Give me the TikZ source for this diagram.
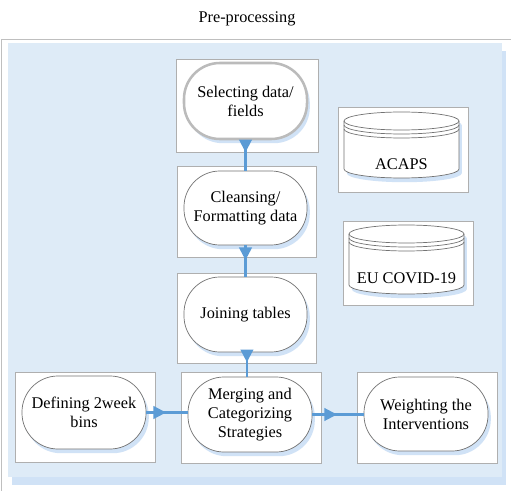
\documentclass[tikz,border=0pt]{standalone}
\usepackage{fontspec}
\setmainfont{Liberation Serif}
\usetikzlibrary{positioning,arrows.meta,shadows,decorations.markings}
\definecolor{ppBlue}{RGB}{91,155,213}
\definecolor{ppPanel}{RGB}{222,235,247}
\definecolor{ppShade}{RGB}{208,226,246}
\definecolor{ppFrame}{RGB}{175,175,175}
\definecolor{ppEdge}{RGB}{115,115,115}

\begin{document}
\begin{tikzpicture}[x=0.025cm, y=-0.025cm,
  txt/.style={font=\rmfamily\fontsize{11.6}{13.6}\selectfont, align=center},
  frame/.style={draw=ppFrame, fill=white, line width=0.5pt, inner sep=0pt,
                minimum width=3.5cm, minimum height=2.275cm},
  shade/.style={drop shadow={shadow xshift=2pt, shadow yshift=-3pt,
                fill=ppShade, opacity=1}},
  stadium/.style={txt, draw=ppEdge, fill=white, line width=0.5pt, shade,
                  rounded corners=0.9cm, inner sep=0pt,
                  minimum width=3.075cm, minimum height=1.875cm},
  drum/.style={draw=ppEdge, fill=white, line width=0.5pt},
  arr/.style={ppBlue, line width=1.5pt},
  tipat/.style={postaction={decorate, decoration={markings,
                mark=at position #1 with {\arrow{Triangle[length=9pt,width=9pt]}}}}}
]
\useasboundingbox (0,0) rectangle (511,491);
% outer frame and panel
\draw[ppFrame!80, line width=0.6pt] (511,39.5) -- (1.5,39.5) -- (1.5,491);
\fill[ppPanel, drop shadow={shadow xshift=3pt, shadow yshift=-6pt,
      fill=ppShade, opacity=1}] (8,43) rectangle (502,477);
\node[txt] (title) at (247,19) {Pre-processing};

% white frames
\node[frame, minimum width=3.55cm, minimum height=2.325cm] (SelF) at (247,105.5) {};
\node[frame, minimum width=3.475cm] (CleF) at (246.5,211.5) {};
\node[frame, minimum width=3.475cm, minimum height=2.25cm] (JoiF) at (246.5,318) {};
\node[frame] (MerF) at (251,417.5) {};
\node[frame, minimum height=2.25cm] (DefF) at (85,417) {};
\node[frame] (WeiF) at (427,417.5) {};
\node[frame, minimum width=3.25cm, minimum height=2.125cm] (AcaF) at (403,149.5) {};
\node[frame, minimum width=3.25cm, minimum height=2.1cm] (EuF) at (408,263) {};

% process steps
\node[stadium, draw=ppFrame!85, line width=1.8pt, minimum height=1.9cm] (Sel) at (245.5,101) {Selecting data/\\fields};
\node[stadium, minimum height=1.85cm] (Cle) at (245.5,208) {Cleansing/\\Formatting data};
\node[stadium] (Joi) at (245.5,314.5) {Joining tables};
\node[stadium, minimum width=3.1cm] (Mer) at (250,414.5) {Merging and\\Categorizing\\Strategies};
\node[stadium, minimum width=3.1cm, minimum height=1.825cm] (Def) at (84,412.5) {Defining 2week\\bins};
\node[stadium, minimum width=3.1cm, minimum height=1.85cm] (Wei) at (426,414) {Weighting the\\Interventions};

% data sources
\foreach \n/\l/\r/\t/\b/\ly/\lbl in {Aca/344/459/121/169/164/ACAPS,
                                     Eu/349/464/234/285/278/EU COVID-19}{
  \pgfmathsetmacro\rx{(\r-\l)/2}
  \draw[drum, shade] (\l,\t) -- (\l,\b)
    arc[start angle=180, end angle=0, x radius=\rx, y radius=9] -- (\r,\t)
    arc[start angle=0, end angle=-180, x radius=\rx, y radius=9] -- cycle;
  \foreach \d in {0,4,8}
    \draw[drum, fill=none] (\l,\t+\d)
      arc[start angle=180, end angle=0, x radius=\rx, y radius=9];
  \node[txt] (\n) at ({(\l+\r)/2},\ly) {\lbl};
}

% connectors
\draw[arr, tipat=8.5pt] (Sel.south) -- (Cle.north);
\draw[arr, tipat=10.5pt] (Cle.south) -- (Joi.north);
\draw[arr, tipat=7pt] ([xshift=1pt]Joi.south) -- ([xshift=1pt]Joi.south |- Mer.north);
\draw[arr, tipat=14pt] (Def.east) -- (Def.east -| Mer.west);
\draw[arr, tipat=17.5pt] (Mer.east) -- (Mer.east -| Wei.west);
\end{tikzpicture}
\end{document}
